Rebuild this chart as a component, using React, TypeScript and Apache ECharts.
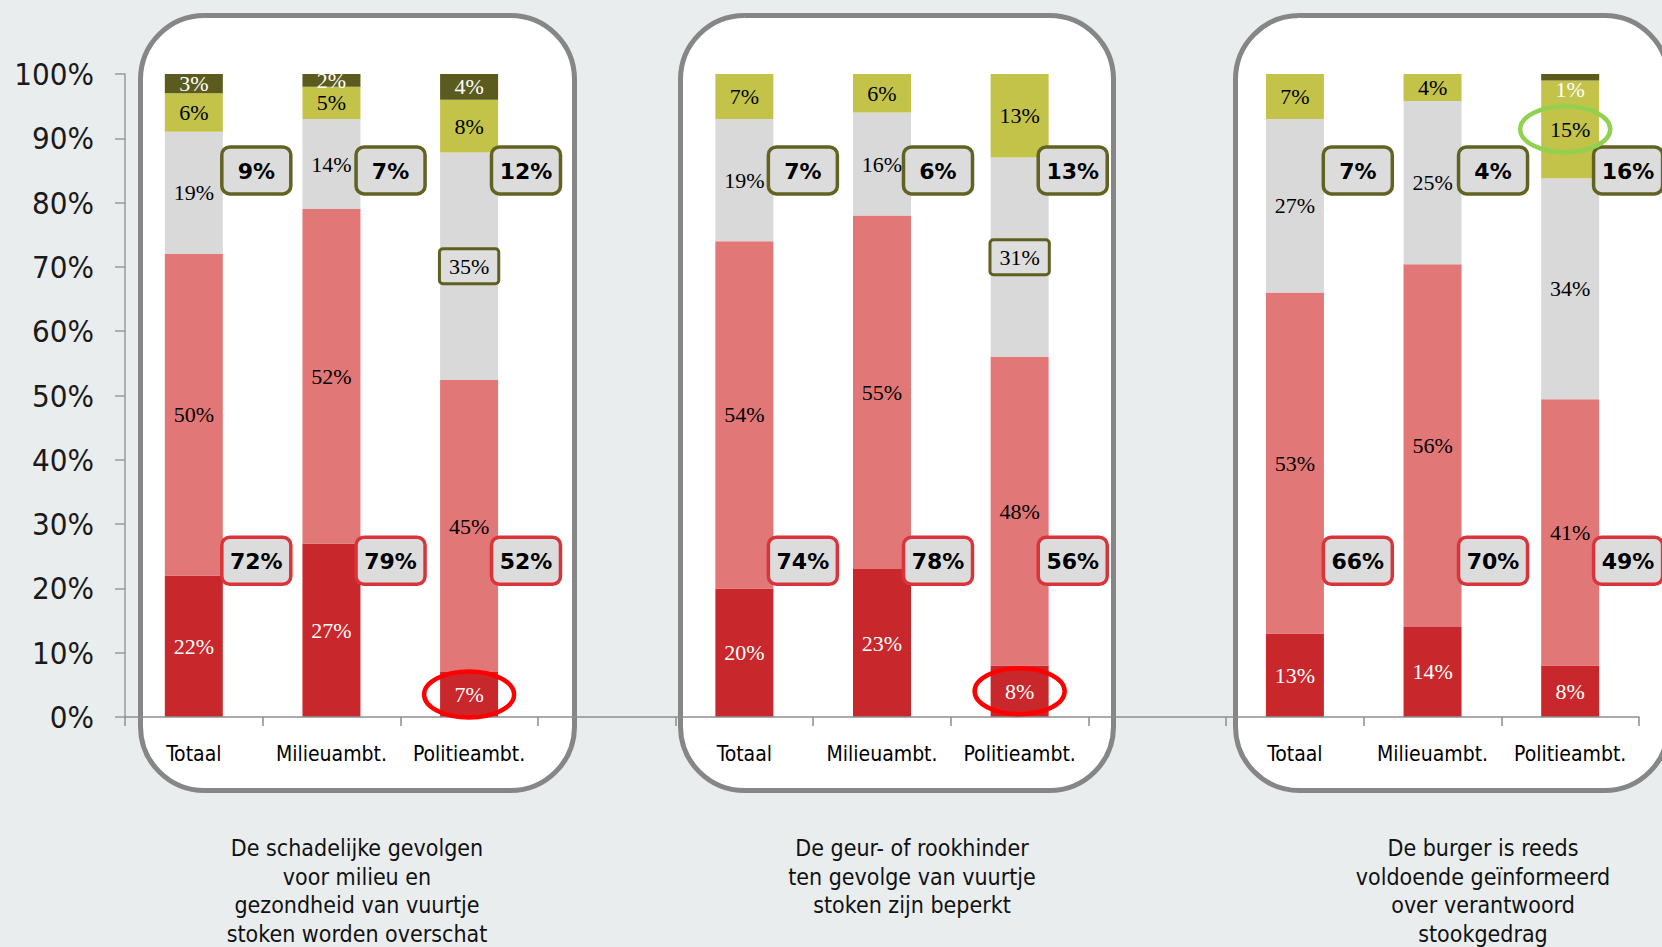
import React, { useEffect, useRef } from "react";
import * as echarts from "echarts";

// Categories per panel
const CATS = ["Totaal", "Milieuambt.", "Politieambt."];
const CAPTIONS = [
  ["De schadelijke gevolgen", "voor milieu en", "gezondheid van vuurtje", "stoken worden overschat"],
  ["De geur- of rookhinder", "ten gevolge van vuurtje", "stoken zijn beperkt"],
  ["De burger is reeds", "voldoende geïnformeerd", "over verantwoord", "stookgedrag"],
];
const Y_TICKS = [0, 10, 20, 30, 40, 50, 60, 70, 80, 90, 100];

// Values per bar (panel 1: 3 bars, panel 2: 3 bars, panel 3: 3 bars), bottom to top
const darkRed = [22, 27, 7, 20, 23, 8, 13, 14, 8];
const lightRed = [50, 52, 45.4, 54, 55, 48, 53, 56.4, 41.4];
const lightGray = [19, 14, 35.4, 19, 16, 31, 27, 25.4, 34.4];
const yellow = [6, 5, 8.2, 7, 6, 13, 7, 4.2, 15.2];
const darkOlive = [3, 2, 4, 0, 0, 0, 0, 0, 1];

// Callout totals
const agreeTotals = [72, 79, 52, 74, 78, 56, 66, 70, 49];
const disagreeTotals = [9, 7, 12, 7, 6, 13, 7, 4, 16];

const COLORS = {
  darkRed: "#c8282b",
  lightRed: "#e27777",
  lightGray: "#d9d9d9",
  yellow: "#c3c34a",
  darkOlive: "#5b5b1e",
};

// layout: left edge of each callout box relative to bar centre (px)
const BOX_DX = [28, 24.6, 22.4, 24, 21.5, 18.6, 28.4, 26, 23.4];

const axisIdx = (i: number) => i + Math.floor(i / 3);
const N_AXIS = 11;

const App: React.FC = () => {
  const ref = useRef<HTMLDivElement>(null);

  useEffect(() => {
    if (!ref.current) return;
    const chart = echarts.init(ref.current, undefined, { renderer: "svg" });

    const axisData: string[] = [];
    const axisLabels: Record<string, string> = {};
    for (let p = 0; p < 3; p++) {
      CATS.forEach((c) => {
        const k = `p${p}-${c}`;
        axisData.push(k);
        axisLabels[k] = c;
      });
      if (p < 2) {
        const k = `gap${p}`;
        axisData.push(k);
        axisLabels[k] = "";
      }
    }

    const spread = (arr: number[], special?: (i: number, v: number) => any) => {
      const out: any[] = new Array(N_AXIS).fill(null);
      arr.forEach((v, i) => {
        if (!v) return;
        out[axisIdx(i)] = special ? special(i, v) : v;
      });
      return out;
    };

    const labelFont = { fontFamily: '"Liberation Serif", "Times New Roman", serif', fontSize: 22 };
    const mkSeries = (name: string, arr: number[], color: string, textColor: string, special?: (i: number, v: number) => any) => ({
      name,
      type: "bar",
      stack: "total",
      barWidth: 58,
      itemStyle: { color },
      label: {
        show: true,
        position: "inside",
        color: textColor,
        ...labelFont,
        formatter: (p: any) => (p.value ? `${Math.round(p.value)}%` : ""),
      },
      data: spread(arr, special),
      z: 2,
    });

    const boxedLabel = (i: number, v: number) =>
      i === 2 || i === 5
        ? {
            value: v,
            label: {
              borderColor: "#5f5f1f",
              borderWidth: 3,
              borderRadius: 2,
              backgroundColor: "#dedede",
              padding: [6, 8, 4, 8],
            },
          }
        : v;

    const oliveSpecial = (i: number, v: number) =>
      i === 8 ? { value: v, label: { offset: [0, 12] } } : v;

    const calloutSeries = (vals: number[], yPos: number, stroke: string) => ({
      type: "custom",
      z: 6,
      silent: true,
      data: vals.map((_, i) => [axisIdx(i), yPos]),
      renderItem: (params: any, api: any) => {
        const pt = api.coord([api.value(0), api.value(1)]);
        const i = params.dataIndex;
        const txt = `${vals[i]}%`;
        const left = pt[0] + BOX_DX[i];
        return {
          type: "group",
          children: [
            {
              type: "rect",
              shape: { x: left, y: pt[1] - 23.5, width: 69, height: 47, r: 8 },
              style: { fill: "#dcdcdc", stroke, lineWidth: 3.5 },
            },
            {
              type: "text",
              style: {
                text: txt,
                x: left + 34.5,
                y: pt[1] + 1,
                align: "center",
                verticalAlign: "middle",
                font: 'bold 22px "DejaVu Sans"',
                fill: "#000",
              },
            },
          ],
        };
      },
    });

    // ellipses around specific labels (centered on segment)
    const ellipseItems = [
      { i: 2, y: darkRed[2] / 2, color: "#ff0000", dx: 0 },
      { i: 5, y: darkRed[5] / 2, color: "#ff0000", dx: 0 },
      { i: 8, y: darkRed[8] + lightRed[8] + lightGray[8] + yellow[8] / 2, color: "#92d050", dx: -5 },
    ];

    const ellipseSeries = {
      type: "custom",
      z: 7,
      silent: true,
      data: ellipseItems.map((e) => [axisIdx(e.i), e.y]),
      renderItem: (params: any, api: any) => {
        const pt = api.coord([api.value(0), api.value(1)]);
        const e = ellipseItems[params.dataIndex];
        return {
          type: "ellipse",
          shape: { cx: pt[0] + e.dx, cy: pt[1], rx: 45, ry: 23 },
          style: { fill: "none", stroke: e.color, lineWidth: 4.5 },
        };
      },
    };

    const panels = [
      { x: 138, w: 439 },
      { x: 678, w: 438 },
      { x: 1233, w: 438 },
    ];
    const captionX = [357, 912, 1483];

    const graphic: any[] = [];
    panels.forEach((p) => {
      graphic.push({
        type: "rect",
        z: -1,
        silent: true,
        shape: { x: p.x + 2.5, y: 15.5, width: p.w - 5, height: 775, r: 64 },
        style: { fill: "#ffffff", stroke: "#868686", lineWidth: 5 },
      });
    });
    CAPTIONS.forEach((lines, k) => {
      graphic.push({
        type: "text",
        z: 1,
        silent: true,
        x: captionX[k],
        y: 834,
        style: {
          text: lines.join("\n"),
          align: "center",
          verticalAlign: "top",
          lineHeight: 28.5,
          font: '23px "DejaVu Sans Condensed", "DejaVu Sans", sans-serif',
          fill: "#111",
        },
      });
    });

    chart.setOption({
      animation: false,
      backgroundColor: "#e9edee",
      grid: { left: 125, right: 23, top: 74, bottom: 230, containLabel: false },
      xAxis: {
        type: "category",
        data: axisData,
        axisLine: { lineStyle: { color: "#8e8e8e", width: 1.5 } },
        axisTick: { show: true, interval: 0, length: 9, lineStyle: { color: "#8e8e8e", width: 1.5 } },
        axisLabel: {
          interval: 0,
          margin: 26,
          color: "#000",
          fontSize: 21,
          fontFamily: '"DejaVu Sans Condensed", "DejaVu Sans", sans-serif',
          formatter: (v: string) => axisLabels[v] ?? "",
        },
        splitLine: { show: false },
        z: 3,
      },
      yAxis: {
        type: "value",
        min: Y_TICKS[0],
        max: Y_TICKS[Y_TICKS.length - 1],
        interval: 10,
        axisLine: { show: true, lineStyle: { color: "#9a9a9a", width: 1.5 } },
        axisTick: { show: true, length: 10, lineStyle: { color: "#9a9a9a", width: 1.5 } },
        axisLabel: {
          margin: 31,
          color: "#1a1a1a",
          fontSize: 31,
          fontFamily: '"DejaVu Sans Condensed", "DejaVu Sans", sans-serif',
          formatter: "{value}%",
        },
        splitLine: { show: false },
        z: 3,
      },
      graphic,
      series: [
        mkSeries("darkRed", darkRed, COLORS.darkRed, "#ffffff"),
        mkSeries("lightRed", lightRed, COLORS.lightRed, "#000000"),
        mkSeries("lightGray", lightGray, COLORS.lightGray, "#000000", boxedLabel),
        mkSeries("yellow", yellow, COLORS.yellow, "#000000"),
        mkSeries("darkOlive", darkOlive, COLORS.darkOlive, "#ffffff", oliveSpecial),
        calloutSeries(agreeTotals, 24.3, "#d9343a"),
        calloutSeries(disagreeTotals, 85, "#626222"),
        ellipseSeries,
      ],
    });

    return () => chart.dispose();
  }, []);

  return (
    <div
      ref={ref}
      style={{ position: "absolute", left: 0, top: 0, width: 1662, height: 947 }}
    />
  );
};

export default App;
